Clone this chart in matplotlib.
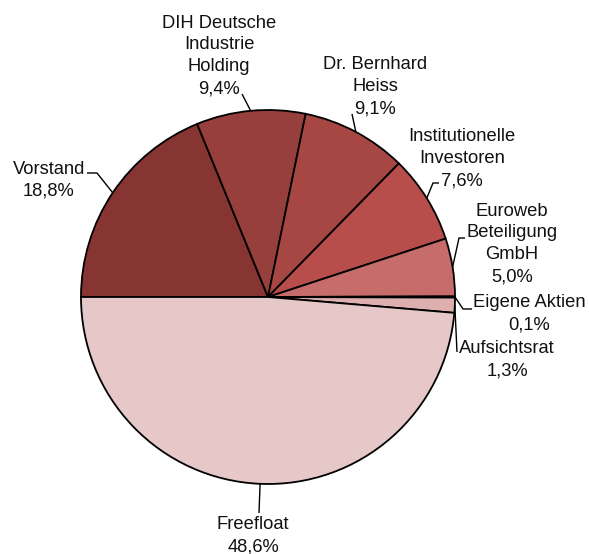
import numpy as np
import matplotlib.pyplot as plt

labels = ['Vorstand', 'DIH Deutsche\nIndustrie\nHolding', 'Dr. Bernhard\nHeiss',
          'Institutionelle\nInvestoren', 'Euroweb\nBeteiligung\nGmbH', 'Eigene Aktien',
          'Aufsichtsrat', 'Freefloat']
shares = [18.8, 9.4, 9.1, 7.6, 5.0, 0.1, 1.3, 48.6]
colors = ['#863533', '#973f3c', '#a64744', '#b84e4b', '#c66d6b', '#d49a9a',
          '#ddafaf', '#e6c8c8']

W, H = 589, 554
CX, CY, R = 268, 297, 187

# label text spots (x, last-line baseline) and leader bend points, in pixels from top-left
text_pos = [(49, 196), (219, 93), (375, 113), (462, 185), (512, 281), (529, 329),
            (507, 375), (253, 551)]
leaders = [[(97, 173), (87, 173)], [(242, 94)], [(352, 114)], [(433, 183), (439, 183)],
           [(459, 238), (465, 238)], [(463, 309), (472, 309)], [(457, 352)], [(259, 513)]]


def px(x, y):
    return x, H - y


fig = plt.figure(figsize=(W / 100, H / 100), dpi=100)
ax = fig.add_axes([0, 0, 1, 1])

wedges, _ = ax.pie(shares, colors=colors, startangle=180, counterclock=False,
                   center=px(CX, CY), radius=R, frame=True,
                   wedgeprops=dict(edgecolor='black', linewidth=1.3))
ax.set_xlim(0, W)
ax.set_ylim(0, H)
ax.set_aspect('equal')
ax.axis('off')

for w, lab, val, tp, pts in zip(wedges, labels, shares, text_pos, leaders):
    mid = np.deg2rad((w.theta1 + w.theta2) / 2)
    ax_, ay_ = CX + R * np.cos(mid), CY - R * np.sin(mid)
    path = [(ax_, ay_)] + pts
    xs = [p[0] for p in path]
    ys = [H - p[1] for p in path]
    ax.plot(xs, ys, color='black', linewidth=1.0, solid_capstyle='butt')
    pct = f"{val:.1f}%".replace('.', ',')
    ax.text(*px(*tp), f"{lab}\n{pct}", ha='center', va='baseline', multialignment='center',
            fontsize=13.2, family=['Liberation Sans', 'DejaVu Sans'], linespacing=1.37,
            color='#111111')

fig.savefig('out.png', dpi=100)
